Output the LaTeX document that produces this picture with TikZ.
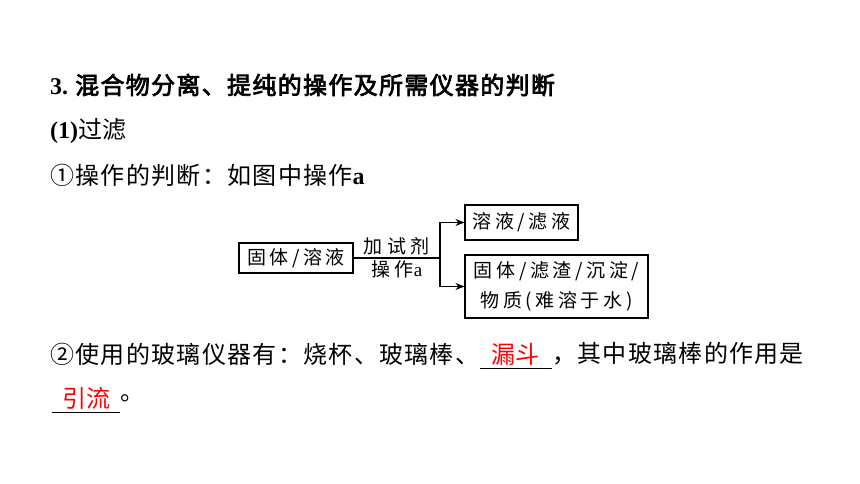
\documentclass[tikz,border=0pt]{standalone}
\usepackage{fontspec}
\setmainfont{Liberation Serif}
\newfontfamily\cjk{Noto Sans CJK SC}
\newfontfamily\cjks{Noto Sans CJK SC}[LetterSpace=5.5, AutoFakeBold=3]
\newfontfamily\cjkd{Noto Sans CJK SC}[LetterSpace=19]
\newfontfamily\cjkl{Noto Sans CJK SC}[LetterSpace=24]
\newcommand\latb[1]{{\rmfamily\bfseries #1}}
\usetikzlibrary{arrows.meta}
\definecolor{ansred}{RGB}{255,0,0}
\tikzstyle{line} = [anchor=west, inner sep=0pt, font=\cjk\fontsize{24}{28}\selectfont]
\tikzstyle{wline} = [line, font=\cjks\fontsize{24}{28}\selectfont]
\tikzstyle{box} = [draw, line width=1.1pt, inner sep=0pt, align=center, font=\cjkd\fontsize{19}{30}\selectfont]
\tikzstyle{lbl} = [inner sep=2pt, font=\cjkl\fontsize{19}{22}\selectfont]
\tikzstyle{answer} = [anchor=west, inner xsep=0pt, inner ysep=3pt, text=ansred, font=\cjk\fontsize{24}{28}\selectfont]
\tikzstyle{arrow} = [line width=1.1pt, -{Stealth[length=9pt,width=7pt]}]

\begin{document}
\begin{tikzpicture}[x=1pt, y=-1pt]
            \useasboundingbox (0,0) rectangle (860,484);
            % text lines
            \node [wline] at (50,85) (title) {\latb{3.}\hspace{7pt}{\bfseries 混合物分离、提纯的操作及所需仪器的判断}};
            \node [line] at (50,131) (sub) {\latb{(1)}过滤};
            \node [wline] at (50,175) (q1) {①操作的判断：如图中操作\latb{a}};
            % diagram
            \node [box, minimum width=114, minimum height=30] at (296,258) (mix) {固体/溶液};
            \node [box, minimum width=113, minimum height=35] at (521.5,222.5) (filt) {溶液/滤液};
            \node [box, minimum width=183, minimum height=63] at (556.5,286.5) (solid) {固体/滤渣/沉淀/\\物质(难溶于水)};
            \coordinate (split) at (440,258);
            \draw [line width=1.1pt] (mix.east) -- node[lbl, above] {加试剂} node[lbl, below] {操作{\rmfamily a}} (split);
            \draw [arrow] (split) |- (filt.west);
            \draw [arrow] (split) |- (solid.west);
            % answers
            \node [wline] at (50,354) (q2) {②使用的玻璃仪器有：烧杯、玻璃棒、};
            \node [answer, minimum width=72] at (q2.east) (ans1) {漏斗};
            \draw [line width=0.8pt] (ans1.south west) -- (ans1.south east);
            \node [wline] at (ans1.east) (q2b) {，其中玻璃棒的作用是};
            \node [answer, minimum width=68] at (52,398) (ans2) {引流};
            \draw [line width=0.8pt] (ans2.south west) -- (ans2.south east);
            \node [wline] at (ans2.east) (stop) {。};
\end{tikzpicture}
\end{document}
